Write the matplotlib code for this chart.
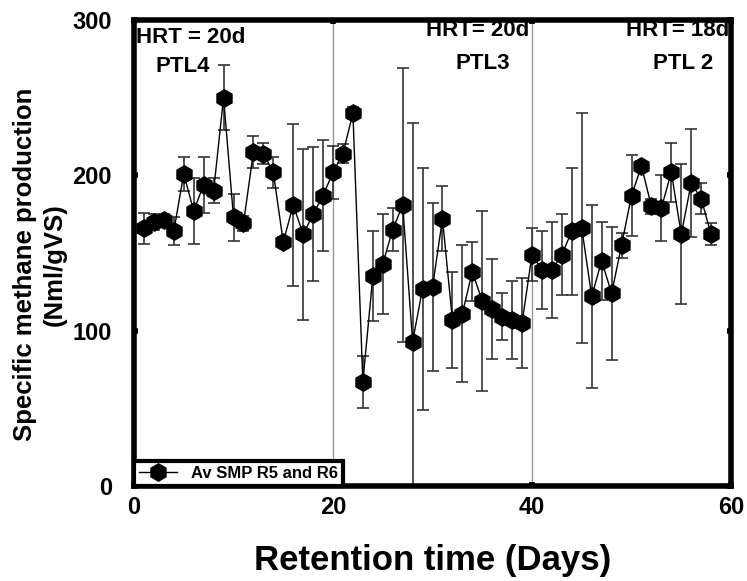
import matplotlib
matplotlib.use("Agg")
import matplotlib.pyplot as plt

plt.rcParams['font.family'] = ['Liberation Sans', 'DejaVu Sans']
plt.rcParams['font.weight'] = 'bold'

# retention time (days) and average specific methane production, R5 and R6
days = list(range(1, 59))
smp = [166, 170, 171, 164, 201, 177, 194, 190, 250, 173,
       169, 215, 214, 202, 157, 181, 162, 175, 187, 202,
       214, 240, 67, 135, 143, 165, 181, 93, 127, 128,
       172, 107, 111, 138, 119, 114, 109, 107, 105, 149,
       139, 139, 149, 164, 166, 122, 145, 124, 155, 187,
       206, 180, 179, 202, 162, 195, 185, 162]
smp_err = [10, 5, 4, 9, 11, 21, 18, 8, 21, 15,
           5, 10, 7, 10, 3, 52, 55, 43, 36, 17,
           6, 4, 17, 29, 32, 14, 88, 141, 78, 54,
           21, 31, 44, 19, 58, 32, 15, 25, 29, 17,
           25, 31, 26, 41, 74, 59, 25, 43, 8, 26,
           3, 5, 21, 19, 45, 35, 10, 7]

# phase labels
phase_hrt = ['HRT = 20d', 'HRT= 20d', 'HRT= 18d']
phase_hrt_x = [0.15, 39.7, 59.8]
phase_hrt_ha = ['left', 'right', 'right']
phase_hrt_y = [289, 293, 293]
phase_ptl = ['PTL4', 'PTL3', 'PTL 2']
phase_ptl_x = [4.9, 35.0, 55.2]
phase_ptl_y = [270, 272, 272]
boundaries = [20, 40]

fig = plt.figure(figsize=(7.47, 5.81), dpi=100)
ax = fig.add_axes([0.1794, 0.1635, 0.7992, 0.8021])

for b in boundaries:
    ax.axvline(b, color='#999999', lw=1, zorder=1)

ax.errorbar(days, smp, yerr=smp_err, fmt='none', ecolor='#333333',
            elinewidth=1.2, capsize=4.5, capthick=1.2, zorder=2)
ax.plot(days, smp, color='black', lw=1, marker='h', markersize=12.5,
        markerfacecolor='black', markeredgecolor='black',
        label='Av SMP R5 and R6', zorder=3)

for x, y, t, ha in zip(phase_hrt_x, phase_hrt_y, phase_hrt, phase_hrt_ha):
    ax.text(x, y, t, fontsize=16, fontweight='bold', ha=ha, va='center',
            zorder=4)
for x, y, t in zip(phase_ptl_x, phase_ptl_y, phase_ptl):
    ax.text(x, y, t, fontsize=16, fontweight='bold', ha='center', va='center')

ax.set_xlim(0, 60)
ax.set_ylim(0, 300)
ax.set_xticks([0, 20, 40, 60])
ax.set_yticks([0, 100, 200, 300])
ax.tick_params(direction='in', length=3, width=4, labelsize=17,
               top=True, right=True)
ax.tick_params(axis='x', pad=7)
ax.tick_params(axis='y', pad=16)
for lab in ax.get_xticklabels() + ax.get_yticklabels():
    lab.set_fontweight('bold')
for s in ax.spines.values():
    s.set_linewidth(4)

ax.set_xlabel('Retention time (Days)', fontsize=25, fontweight='bold', labelpad=18)
ax.set_ylabel('Specific methane production\n(Nml/gVS)', fontsize=18.5,
              fontweight='bold', labelpad=0, linespacing=1.3)
ax.yaxis.set_label_coords(-0.112, 0.475)

leg = ax.legend(loc='lower left', borderaxespad=0, fancybox=False,
                handlelength=2.3, borderpad=0.3,
                prop={'weight': 'bold', 'size': 12})
leg.get_frame().set_edgecolor('black')
leg.get_frame().set_linewidth(3)
leg.get_frame().set_alpha(1)

fig.savefig('out.png', dpi=100)
